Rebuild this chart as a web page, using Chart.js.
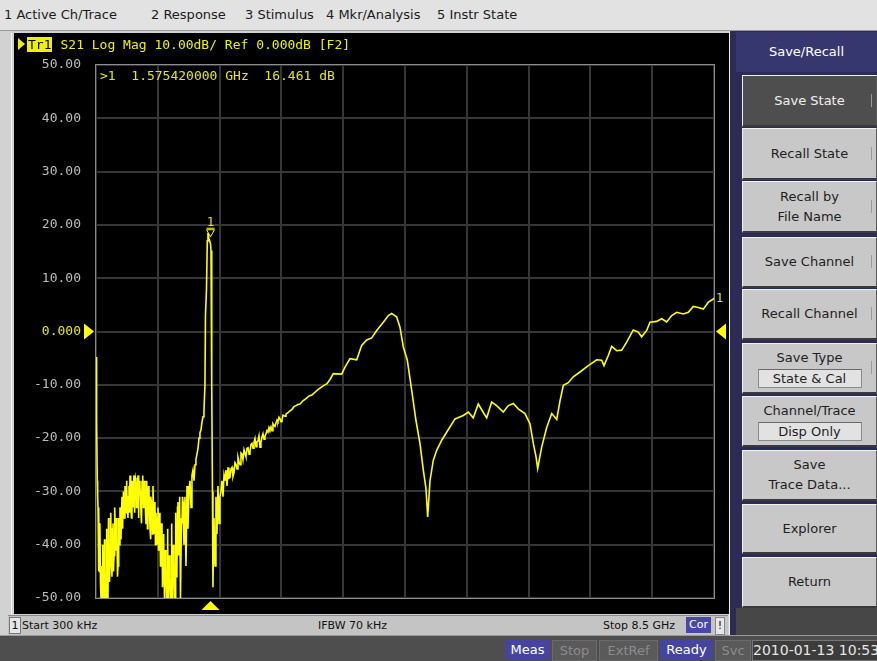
<!DOCTYPE html>
<html>
<head>
<meta charset="utf-8">
<script src="https://cdn.jsdelivr.net/npm/chart.js@4.4.1/dist/chart.umd.min.js"></script>
<style>
  html, body { margin: 0; padding: 0; }
  body { width: 877px; height: 661px; overflow: hidden; position: relative; background: #d2d2d2;
         font-family: Tahoma, "DejaVu Sans", sans-serif; }
  .abs { position: absolute; }
  #menubar { left: 0; top: 0; width: 877px; height: 30px; background: #e2e2e2; border-bottom: 1px solid #9a9a9a; }
  #menubar span { position: absolute; top: 7px; font-size: 13px; color: #1c1c1c; white-space: nowrap; }
  #leftedge { left: 11px; top: 33px; width: 1px; height: 600px; background: #f4f4f4; }
  #screen { left: 14px; top: 33px; width: 715px; height: 581px; background: #000; }
  #hdr { left: 4px; top: 4px; height: 15px; font-family: "DejaVu Sans Mono", monospace; font-size: 13px; color: #f0f000; white-space: pre; }
  #hdr .arrow { display: inline-block; width: 0; height: 0; border-top: 6px solid transparent; border-bottom: 6px solid transparent; border-left: 7px solid #f0f000; vertical-align: -1px; margin-right: 2px; }
  #hdr .tr { background: #f0f000; color: #000; padding: 0 1px; margin-right: 8px; }
  #chbar { left: 8px; top: 615px; width: 720px; height: 19px; background: #c4c4c4; border-top: 1px solid #8a8a8a; }
  #chbar span { position: absolute; top: 3px; font-size: 11px; color: #111; white-space: nowrap; }
  #chbar .box1 { left: 1px; top: 1px; width: 10px; height: 15px; background: #e6e6e6; border: 1px solid #777; text-align: center; line-height: 15px; }
  #chbar .cor { left: 678px; top: 1px; height: 16px; line-height: 16px; padding: 0 3px; background: #4848a8; color: #fff; }
  #chbar .bang { left: 707px; top: 1px; height: 16px; line-height: 16px; width: 8px; background: #e6e6e6; border: 1px solid #888; text-align: center; }
  #statusbar { left: 0; top: 635px; width: 877px; height: 26px; background: #4e4e4e; border-top: 1px solid #9a9a9a; }
  #statusbar span { position: absolute; top: 4px; height: 19px; line-height: 19px; font-size: 13px; text-align: center; white-space: nowrap; }
  .on { background: #4545a0; color: #fff; }
  .off { background: #5a5a5a; color: #8c8c8c; border: 1px solid #6a6a6a; }
  #keys { left: 730px; top: 31px; width: 147px; height: 604px; background: #2b2b55; }
  #keysframe { left: 729px; top: 31px; width: 7px; height: 604px; background: #bdbdbd; border-left: 1px solid #ededed; }
  .title { left: 736px; top: 32px; width: 141px; height: 40px; background: #37376f; color: #fff; font-size: 13px; line-height: 40px; text-align: center; }
  .key { left: 742px; width: 133px; background: #c8c8c8; border-top: 1px solid #f2f2f2; border-left: 1px solid #f2f2f2; border-bottom: 2px solid #3a3a3a; border-right: 1px solid #5a5a5a;
         font-size: 13px; color: #1e1e1e; text-align: center; display: flex; flex-direction: column; justify-content: center; align-items: center; line-height: 20px; }
  .key.sel { background: #4e4e4e; color: #f0f0f0; }
  .key .val { width: 102px; height: 17px; line-height: 17px; background: #e2e2e2; border: 1px solid #8a8a8a; border-top-color: #6a6a6a; margin-top: 1px; }
  .key .more { position: absolute; right: 1px; top: 50%; margin-top: -7px; width: 3px; height: 13px; border-left: 1px solid #9a9a9a; }
  #keysbottom { left: 736px; top: 608px; width: 141px; height: 27px; background: #474747; }
</style>
</head>
<body>
<div id="menubar" class="abs">
  <span style="left:4px">1 Active Ch/Trace</span>
  <span style="left:151px">2 Response</span>
  <span style="left:245px">3 Stimulus</span>
  <span style="left:326px">4 Mkr/Analysis</span>
  <span style="left:437px">5 Instr State</span>
</div>
<div id="leftedge" class="abs"></div>
<div id="screen" class="abs">
  <canvas id="trace" width="715" height="581"></canvas>
  <div id="hdr" class="abs"><span class="arrow"></span><span class="tr">Tr1</span>S21 Log Mag 10.00dB/ Ref 0.000dB [F2]</div>
</div>
<div id="chbar" class="abs">
  <span class="box1">1</span>
  <span style="left:14px">Start 300 kHz</span>
  <span style="left:310px">IFBW 70 kHz</span>
  <span style="left:595px">Stop 8.5 GHz</span>
  <span class="cor">Cor</span>
  <span class="bang">!</span>
</div>
<div id="statusbar" class="abs">
  <span class="on" style="left:505px;width:45px">Meas</span>
  <span class="off" style="left:552px;width:43px">Stop</span>
  <span class="off" style="left:599px;width:57px">ExtRef</span>
  <span class="on" style="left:660px;width:53px">Ready</span>
  <span class="off" style="left:715px;width:34px">Svc</span>
  <span style="left:752px;width:124px;background:#3c3c3c;color:#e6e6e6;border:1px solid #777;font-size:14px">2010-01-13 10:53</span>
</div>
<div id="keysframe" class="abs"></div>
<div id="keys" class="abs"></div>
<div class="abs title">Save/Recall</div>
<div class="abs key sel" style="top:75px;height:49px">Save State<span class="more"></span></div>
<div class="abs key" style="top:128px;height:49px">Recall State<span class="more"></span></div>
<div class="abs key" style="top:181px;height:49px">Recall by<br>File Name<span class="more"></span></div>
<div class="abs key" style="top:237px;height:48px">Save Channel<span class="more"></span></div>
<div class="abs key" style="top:289px;height:48px">Recall Channel<span class="more"></span></div>
<div class="abs key" style="top:343px;height:48px">Save Type<div class="val">State &amp; Cal</div><span class="more"></span></div>
<div class="abs key" style="top:396px;height:48px">Channel/Trace<div class="val">Disp Only</div></div>
<div class="abs key" style="top:450px;height:48px">Save<br>Trace Data...</div>
<div class="abs key" style="top:504px;height:47px">Explorer</div>
<div class="abs key" style="top:557px;height:48px">Return</div>
<div id="keysbottom" class="abs"></div>

<script>
// Sweep: 300 kHz .. 8.5 GHz, S21 log magnitude (dB)
const startGHz = 0.0003;
const stopGHz = 8.5;

const freqGHz = [
  0.0003, 0.004, 0.007, 0.010, 0.014, 0.018, 0.021, 0.025, 0.028, 0.034,
  0.041, 0.048, 0.052, 0.055, 0.062, 0.069, 0.076, 0.083, 0.090, 0.096,
  0.103, 0.110, 0.117, 0.124, 0.131, 0.138, 0.144, 0.151, 0.158, 0.165,
  0.172, 0.179, 0.186, 0.193, 0.200, 0.206, 0.213, 0.220, 0.227, 0.234,
  0.241, 0.248, 0.255, 0.261, 0.268, 0.275, 0.282, 0.289, 0.296, 0.303,
  0.310, 0.316, 0.323, 0.330, 0.344, 0.351, 0.358, 0.364, 0.371, 0.378,
  0.385, 0.392, 0.399, 0.406, 0.413, 0.419, 0.426, 0.433, 0.440, 0.447,
  0.454, 0.461, 0.468, 0.474, 0.481, 0.488, 0.495, 0.502, 0.509, 0.516,
  0.523, 0.529, 0.536, 0.543, 0.550, 0.557, 0.564, 0.571, 0.578, 0.584,
  0.591, 0.598, 0.605, 0.612, 0.619, 0.626, 0.633, 0.640, 0.646, 0.653,
  0.660, 0.667, 0.674, 0.681, 0.688, 0.694, 0.701, 0.708, 0.715, 0.722,
  0.729, 0.736, 0.743, 0.749, 0.756, 0.763, 0.770, 0.777, 0.784, 0.791,
  0.798, 0.804, 0.811, 0.818, 0.825, 0.832, 0.839, 0.846, 0.853, 0.860,
  0.866, 0.873, 0.880, 0.887, 0.894, 0.901, 0.908, 0.915, 0.922, 0.928,
  0.935, 0.942, 0.949, 0.956, 0.963, 0.970, 0.977, 0.983, 0.990, 0.997,
  1.004, 1.011, 1.018, 1.025, 1.032, 1.038, 1.045, 1.052, 1.059, 1.066,
  1.073, 1.080, 1.087, 1.093, 1.100, 1.107, 1.114, 1.121, 1.128, 1.135,
  1.142, 1.148, 1.155, 1.162, 1.169, 1.176, 1.183, 1.190, 1.197, 1.210,
  1.224, 1.238, 1.252, 1.265, 1.279, 1.293, 1.307, 1.320, 1.334, 1.348,
  1.362, 1.375, 1.389, 1.403, 1.417, 1.430, 1.444, 1.458, 1.472, 1.485,
  1.499, 1.506, 1.520, 1.531, 1.540, 1.554, 1.568, 1.57542, 1.582, 1.589,
  1.595, 1.602, 1.609, 1.616, 1.623, 1.637, 1.650, 1.664, 1.678, 1.692,
  1.705, 1.719, 1.733, 1.747, 1.761, 1.774, 1.788, 1.802, 1.816, 1.829,
  1.843, 1.857, 1.871, 1.884, 1.898, 1.912, 1.926, 1.940, 1.953, 1.967,
  1.981, 1.994, 2.008, 2.022, 2.036, 2.050, 2.063, 2.077, 2.091, 2.105,
  2.118, 2.132, 2.146, 2.160, 2.173, 2.187, 2.201, 2.214, 2.228, 2.242,
  2.256, 2.269, 2.283, 2.297, 2.311, 2.324, 2.338, 2.352, 2.366, 2.380,
  2.393, 2.407, 2.421, 2.434, 2.448, 2.462, 2.476, 2.490, 2.503, 2.517,
  2.531, 2.545, 2.558, 2.572, 2.586, 2.600, 2.613, 2.641, 2.668, 2.696,
  2.723, 2.751, 2.778, 2.806, 2.847, 2.888, 2.930, 2.971, 3.012, 3.054,
  3.095, 3.136, 3.177, 3.219, 3.264, 3.379, 3.425, 3.494, 3.586, 3.654,
  3.723, 3.792, 3.861, 3.952, 4.021, 4.067, 4.136, 4.181, 4.227, 4.282,
  4.342, 4.401, 4.456, 4.502, 4.539, 4.562, 4.594, 4.639, 4.686, 4.755,
  4.823, 4.938, 5.052, 5.121, 5.189, 5.258, 5.327, 5.374, 5.442, 5.511,
  5.602, 5.671, 5.740, 5.808, 5.900, 5.969, 6.015, 6.052, 6.075, 6.130,
  6.199, 6.268, 6.337, 6.382, 6.428, 6.496, 6.565, 6.657, 6.771, 6.887,
  6.955, 6.987, 7.046, 7.093, 7.162, 7.230, 7.299, 7.390, 7.459, 7.505,
  7.574, 7.620, 7.712, 7.781, 7.850, 7.918, 7.987, 8.078, 8.147, 8.215,
  8.284, 8.353, 8.422, 8.491, 8.5
];

const s21dB = [
  -4.8, -15, -16, -17.5, -17, -28, -29, -31, -33, -45,
  -34, -45, -38, -36, -47, -50, -44, -50, -40, -42,
  -49, -50, -39, -45, -50, -50, -37, -41, -48, -50,
  -35, -38, -47, -44, -36, -34, -43, -46, -37, -36,
  -45, -42, -34, -33, -41, -40, -35, -38, -46, -44,
  -37, -35, -40, -33, -39, -34, -31, -37, -36, -30,
  -32, -35, -29, -31, -34, -28, -30, -33, -35, -31,
  -29, -34, -27, -29, -32, -35, -28, -30, -33, -29,
  -27, -34, -30, -27.5, -28, -33, -32, -29, -27, -35,
  -31, -28, -29, -31, -34, -36, -28, -30, -27, -33,
  -31, -28, -29, -34, -36, -31, -28, -37, -33, -29,
  -30, -34, -37, -39, -31, -32, -35, -38, -29, -33,
  -38, -36, -32, -40, -34, -36, -40, -35, -33, -41,
  -38, -34, -36, -44, -42, -36, -37, -48, -45, -38,
  -39, -50, -50, -41, -44, -50, -50, -37, -40, -50,
  -50, -42, -46, -50, -50, -36, -38, -50, -50, -40,
  -43, -50, -50, -34, -35, -46, -45, -33, -32, -42,
  -41, -31, -33, -50, -50, -35, -36, -31, -32, -40,
  -31, -44, -29, -37, -30, -28, -33, -27, -26, -28,
  -25, -24, -23, -22, -20, -19, -18.5, -17, -16, -15,
  -10, 3, 8, 17, 18.5, 17.4, 16.8, 16.461, 15.2, 10,
  -10, -30, -48, -40, -35, -44, -31, -38, -29, -36,
  -31, -30, -28, -31, -27, -28, -26, -29, -25.5, -27.5,
  -27.4, -25.8, -25.5, -27.2, -26.5, -24.6, -24.9, -25.8, -23.6, -24.4,
  -25, -22.8, -23, -24.1, -22.2, -22.9, -23.5, -21.9, -21.8, -23.0,
  -22.5, -21.2, -21, -21.9, -20.8, -20.1, -21.6, -20.7, -20.5, -19.6,
  -21.7, -20.9, -19.8, -19.2, -20.2, -19.7, -19.2, -18.6, -18.9, -18.0,
  -18.4, -17.9, -18.6, -17.3, -17.6, -17.8, -17.1, -16.6, -16.9, -16.1,
  -16.4, -16.9, -16.6, -15.7, -15.8, -15.9, -15.5, -15.2, -14.9, -14.6,
  -14.1, -13.9, -13.7, -13.6, -13.0, -12.6, -12.1, -11.9, -11.4, -10.9,
  -10.5, -10.1, -9.8, -9.0, -7.9, -8.0, -6.7, -5.1, -5.3, -2.6,
  -1.6, -1.2, 0.2, 1.75, 3.0, 3.4, 2.7, 0.8, -2.9, -5.4,
  -11, -16.7, -21, -26, -29.5, -34.8, -28, -24.2, -22.3, -20.4,
  -18.9, -16.4, -15.75, -15.1, -16.2, -13.6, -15.2, -16.2, -13.25, -13.9,
  -15.1, -13.9, -13.5, -14.5, -15.4, -17.3, -21, -23.5, -25.7, -21.7,
  -18, -15.4, -16.5, -13.0, -10.1, -9.6, -8.5, -7.6, -6.4, -5.3,
  -5.4, -6.4, -4.5, -2.8, -3.6, -3.5, -2.0, 0.3, -0.1, -1.0,
  0.2, 1.75, 1.9, 2.4, 1.8, 3.0, 3.6, 3.3, 3.6, 4.7,
  4.5, 4.2, 5.5, 6.1, 6.2
];

// Marker 1
const markerFreqGHz = 1.57542;
const markerDb = 16.461;

// Graticule: 10 divisions each way
const xGridGHz = [0.0003, 0.85, 1.7, 2.55, 3.4, 4.25, 5.1, 5.95, 6.8, 7.65, 8.5];
const yTickValues = [50, 40, 30, 20, 10, 0, -10, -20, -30, -40, -50];
const yTickLabels = ['50.00', '40.00', '30.00', '20.00', '10.00', '0.000', '-10.00', '-20.00', '-30.00', '-40.00', '-50.00'];
const refLevelDb = 0;

const TRACE = '#ffff00';
const TEXT_YEL = '#e8e800';

const vnaOverlay = {
  id: 'vnaOverlay',
  beforeDatasetsDraw(chart) {
    const { ctx, chartArea: a } = chart;
    ctx.save();
    ctx.strokeStyle = '#8c8c8c';
    ctx.lineWidth = 1;
    ctx.strokeRect(Math.round(a.left) - 0.5, Math.round(a.top) - 0.5, Math.round(a.width) + 1, Math.round(a.height) + 1);
    ctx.restore();
  },
  afterDatasetsDraw(chart) {
    const { ctx, chartArea: a, scales: { x, y } } = chart;
    ctx.save();
    ctx.fillStyle = TEXT_YEL;
    ctx.strokeStyle = TRACE;
    ctx.font = '13px "DejaVu Sans Mono", monospace';
    ctx.textBaseline = 'middle';
    ctx.textAlign = 'left';
    // active marker readout
    ctx.fillText('>1  ' + markerFreqGHz.toFixed(9) + ' GHz  ' + markerDb.toFixed(3) + ' dB', a.left + 4, a.top + 12);

    // marker 1 symbol on the trace
    const mx = x.getPixelForValue(markerFreqGHz);
    const my = y.getPixelForValue(markerDb) - 7;
    ctx.lineWidth = 1;
    ctx.beginPath();
    ctx.moveTo(mx - 4, my - 7);
    ctx.lineTo(mx + 4, my - 7);
    ctx.lineTo(mx, my);
    ctx.closePath();
    ctx.stroke();
    ctx.beginPath();
    ctx.moveTo(mx - 4, my - 8.5);
    ctx.lineTo(mx + 4, my - 8.5);
    ctx.stroke();
    ctx.textAlign = 'center';
    ctx.font = '12px "DejaVu Sans Mono", monospace';
    ctx.fillText('1', mx, my - 14);

    // stimulus marker under the graticule
    ctx.fillStyle = TRACE;
    ctx.beginPath();
    ctx.moveTo(mx, a.bottom + 3);
    ctx.lineTo(mx + 9, a.bottom + 12);
    ctx.lineTo(mx - 9, a.bottom + 12);
    ctx.closePath();
    ctx.fill();

    // reference level arrows
    const ry = y.getPixelForValue(refLevelDb);
    ctx.beginPath();
    ctx.moveTo(a.left - 12, ry - 8);
    ctx.lineTo(a.left - 2, ry);
    ctx.lineTo(a.left - 12, ry + 8);
    ctx.closePath();
    ctx.fill();
    ctx.beginPath();
    ctx.moveTo(a.right + 12, ry - 8);
    ctx.lineTo(a.right + 2, ry);
    ctx.lineTo(a.right + 12, ry + 8);
    ctx.closePath();
    ctx.fill();

    // trace number at the end of the sweep
    const ey = y.getPixelForValue(s21dB[s21dB.length - 1]);
    ctx.fillStyle = TEXT_YEL;
    ctx.textAlign = 'left';
    ctx.font = '12px "DejaVu Sans Mono", monospace';
    ctx.fillText('1', a.right + 2, ey);
    ctx.restore();
  }
};

new Chart(document.getElementById('trace'), {
  type: 'line',
  data: {
    datasets: [{
      data: freqGHz.map((f, i) => ({ x: f, y: s21dB[i] })),
      borderColor: TRACE,
      borderWidth: 1.6,
      pointRadius: 0,
      tension: 0,
      fill: false
    }]
  },
  options: {
    responsive: false,
    animation: false,
    devicePixelRatio: 1,
    layout: { padding: { left: 0, right: 15, top: 32, bottom: 16 } },
    plugins: { legend: { display: false }, tooltip: { enabled: false } },
    scales: {
      x: {
        type: 'linear', min: startGHz, max: stopGHz,
        afterBuildTicks: s => { s.ticks = xGridGHz.map(v => ({ value: v })); },
        afterFit: s => { s.height = 0; s.paddingLeft = 0; s.paddingRight = 0; },
        ticks: { display: false },
        grid: { color: '#363636', lineWidth: 2, drawTicks: false },
        border: { display: false }
      },
      y: {
        min: -50, max: 50,
        afterBuildTicks: s => { s.ticks = yTickValues.map(v => ({ value: v })); },
        // fixed label column; the graticule edges are set by the layout padding alone
        afterFit: s => { s.width = 82; s.paddingTop = 0; s.paddingBottom = 0; },
        ticks: {
          callback: v => yTickLabels[yTickValues.indexOf(v)],
          color: c => (c.tick && c.tick.value === refLevelDb) ? TEXT_YEL : '#bcbcbc',
          font: { family: '"DejaVu Sans Mono", monospace', size: 13 },
          padding: 15
        },
        grid: { color: '#363636', lineWidth: 2, drawTicks: false },
        border: { display: false }
      }
    }
  },
  plugins: [vnaOverlay]
});
</script>
</body>
</html>
